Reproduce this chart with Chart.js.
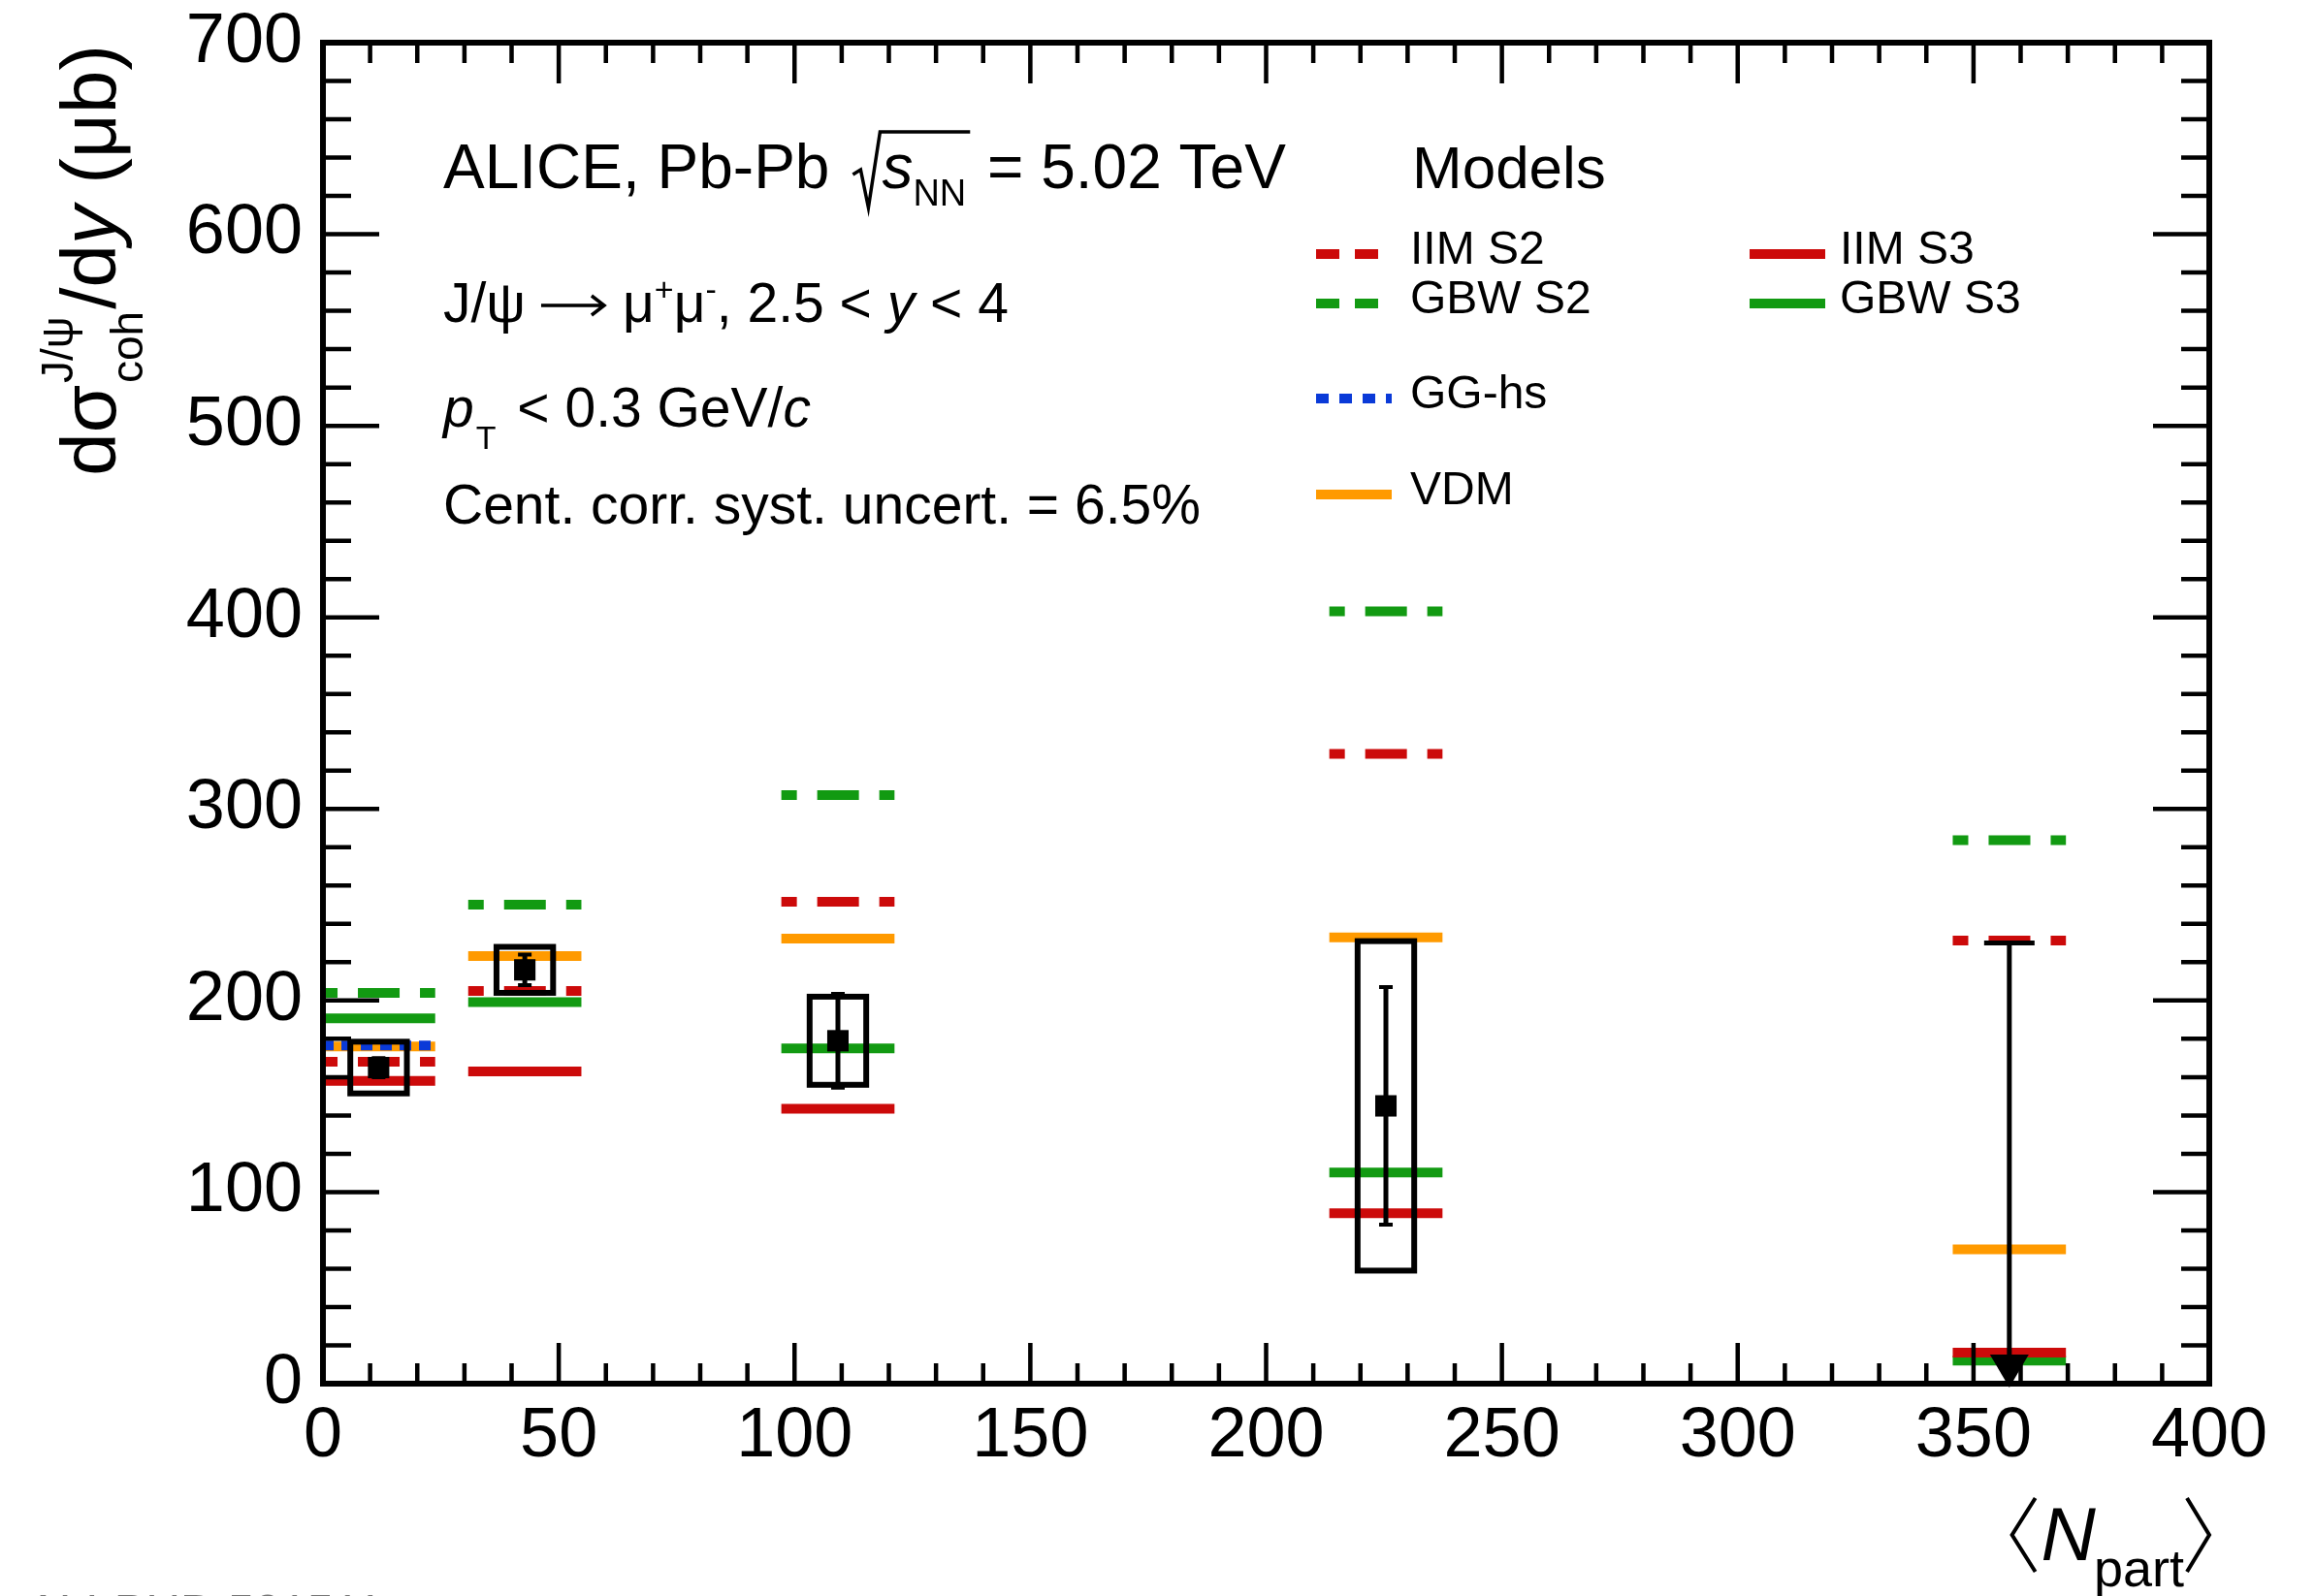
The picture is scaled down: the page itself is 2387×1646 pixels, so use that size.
<!DOCTYPE html>
<html>
<head>
<meta charset="utf-8">
<title>Coherent J/psi cross section vs Npart</title>
<script src="https://cdn.jsdelivr.net/npm/chart.js@4.4.1/dist/chart.umd.min.js"></script>
<style>
  html, body { margin: 0; padding: 0; background: #fff; }
  #wrap { width: 2387px; height: 1646px; }
</style>
</head>
<body>
<div id="wrap"><canvas id="xsecChart" width="2387" height="1646"></canvas></div>
<script>
// mean number of participants per centrality class
const npart = [11.8, 42.8, 109.2, 225.4, 357.6];

// measured dsigma/dy (mub), stat. and syst. uncertainties
const xsec = [165, 216, 179, 145, null];
const statErr = [5, 8, 24.5, 62, null];
const systErr = [13.5, 12, 23, 86, null];
const upperLimit = [null, null, null, null, 230];

// model predictions
const iimS2 = [168, 205, 251.6, 328.8, 231.3];
const gbwS2 = [204, 250, 307.2, 403.2, 283.7];
const iimS3 = [158, 163, 143.5, 89, 16.2];
const gbwS3 = [190.7, 199.2, 175, 110.2, 12];
const ggHs = [176.5, null, null, null, null];
const vdm = [176, 223.2, 232.3, 233, 70.1];

// axis ticks
const xTickValues = [0, 50, 100, 150, 200, 250, 300, 350, 400];
const yTickValues = [0, 100, 200, 300, 400, 500, 600, 700];
const xMinorStep = 10;
const yMinorStep = 20;

const FONT = '"Liberation Sans", Arial, Helvetica, sans-serif';
const RED = '#cc0a0a';
const GREEN = '#129a12';
const BLUE = '#0a3ad8';
const ORANGE = '#ff9a00';

const HALF_W = 12;  // half width of model bands (Npart units)
const BOX_W = 6;    // half width of syst. boxes (Npart units)

function segments(vals) {
  const pts = [];
  vals.forEach((v, i) => {
    if (v == null) return;
    pts.push({x: npart[i] - HALF_W, y: v}, {x: npart[i] + HALF_W, y: v}, {x: npart[i] + HALF_W, y: null});
  });
  return pts;
}

function modelSet(label, vals, color, dash, offset, order) {
  return {
    label: label,
    data: segments(vals),
    showLine: true,
    borderColor: color,
    backgroundColor: color,
    borderWidth: 10,
    borderDash: dash,
    borderDashOffset: offset,
    borderCapStyle: 'butt',
    pointRadius: 0,
    spanGaps: false,
    order: order
  };
}

const points = [];
xsec.forEach((v, i) => { if (v != null) points.push({x: npart[i], y: v}); });

function run(ctx, x, y, parts) {
  for (const p of parts) {
    ctx.font = (p.i ? 'italic ' : '') + p.s + 'px ' + FONT;
    ctx.fillText(p.t, x + (p.dx || 0), y + (p.dy || 0));
    x += ctx.measureText(p.t).width + (p.dx || 0);
  }
  return x;
}

function drawData(chart) {
  const {ctx, scales: {x, y}} = chart;
  ctx.save();
  ctx.strokeStyle = '#000';
  ctx.fillStyle = '#000';
  xsec.forEach((v, i) => {
    if (v == null) return;
    const x0 = x.getPixelForValue(npart[i] - BOX_W), x1 = x.getPixelForValue(npart[i] + BOX_W);
    const yt = y.getPixelForValue(v + systErr[i]), yb = y.getPixelForValue(v - systErr[i]);
    ctx.lineWidth = 6;
    ctx.strokeRect(x0, yt, x1 - x0, yb - yt);
    const px = x.getPixelForValue(npart[i]);
    const st = y.getPixelForValue(v + statErr[i]), sb = y.getPixelForValue(v - statErr[i]);
    ctx.lineWidth = 5;
    ctx.beginPath();
    ctx.moveTo(px, st); ctx.lineTo(px, sb);
    ctx.stroke();
    ctx.lineWidth = 4;
    ctx.beginPath();
    ctx.moveTo(px - 7, st); ctx.lineTo(px + 7, st);
    ctx.moveTo(px - 7, sb); ctx.lineTo(px + 7, sb);
    ctx.stroke();
  });
  upperLimit.forEach((v, i) => {
    if (v == null) return;
    const px = x.getPixelForValue(npart[i]);
    const top = y.getPixelForValue(v), zero = y.getPixelForValue(0);
    ctx.lineWidth = 5;
    ctx.beginPath();
    ctx.moveTo(px - 26, top); ctx.lineTo(px + 26, top);
    ctx.moveTo(px, top); ctx.lineTo(px, zero - 20);
    ctx.stroke();
    ctx.beginPath();
    ctx.moveTo(px - 20, zero - 30); ctx.lineTo(px + 20, zero - 30); ctx.lineTo(px, zero + 4);
    ctx.closePath();
    ctx.fill();
  });
  ctx.restore();
}

function drawFrame(chart) {
  const {ctx, chartArea: a, scales: {x, y}} = chart;
  ctx.save();
  ctx.strokeStyle = '#000';
  ctx.lineWidth = 4.5;
  ctx.beginPath();
  for (let v = x.min; v <= x.max; v += xMinorStep) {
    const px = x.getPixelForValue(v);
    const len = xTickValues.includes(v) ? 42 : 21;
    ctx.moveTo(px, a.bottom); ctx.lineTo(px, a.bottom - len);
    ctx.moveTo(px, a.top); ctx.lineTo(px, a.top + len);
  }
  for (let v = y.min; v <= y.max; v += yMinorStep) {
    const py = y.getPixelForValue(v);
    const len = yTickValues.includes(v) ? 58 : 29;
    ctx.moveTo(a.left, py); ctx.lineTo(a.left + len, py);
    ctx.moveTo(a.right, py); ctx.lineTo(a.right - len, py);
  }
  ctx.stroke();
  ctx.lineWidth = 6;
  ctx.strokeRect(a.left, a.top, a.right - a.left, a.bottom - a.top);
  ctx.restore();
}

function drawTexts(chart) {
  const {ctx, chartArea: a} = chart;
  ctx.save();
  ctx.fillStyle = '#000';
  ctx.strokeStyle = '#000';
  ctx.textBaseline = 'alphabetic';
  ctx.textAlign = 'left';

  // line 1 with sqrt(s_NN)
  let cx = run(ctx, 457, 194, [{t: 'ALICE, Pb-Pb', s: 64}]);
  const sx = cx + 24;
  let ex = run(ctx, sx + 30, 194, [{t: 's', s: 64, i: true}, {t: 'NN', s: 38, dy: 18}]);
  ctx.lineWidth = 3.5;
  ctx.beginPath();
  ctx.moveTo(sx, 180); ctx.lineTo(sx + 8, 175); ctx.lineTo(sx + 16, 214);
  ctx.lineTo(sx + 28, 136); ctx.lineTo(ex + 4, 136);
  ctx.stroke();
  run(ctx, ex + 4, 194, [{t: ' = 5.02 TeV', s: 64}]);

  // line 2 with a drawn arrow
  let ax = run(ctx, 457, 332, [{t: 'J/\u03C8', s: 57}]);
  const ay = 315;
  ctx.lineWidth = 3.5;
  ctx.beginPath();
  ctx.moveTo(ax + 16, ay); ctx.lineTo(ax + 80, ay);
  ctx.moveTo(ax + 68, ay - 10); ctx.lineTo(ax + 81, ay); ctx.lineTo(ax + 68, ay + 10);
  ctx.stroke();
  run(ctx, ax + 100, 332, [
    {t: '\u03BC', s: 57}, {t: '+', s: 34, dy: -22}, {t: '\u03BC', s: 57},
    {t: '-', s: 34, dy: -22}, {t: ', 2.5 < ', s: 57}, {t: 'y', s: 57, i: true}, {t: ' < 4', s: 57}
  ]);
  run(ctx, 457, 440, [
    {t: 'p', s: 57, i: true}, {t: 'T', s: 34, dy: 23, dx: 2}, {t: ' < 0.3 GeV/', s: 57, dx: 6}, {t: 'c', s: 57, i: true}
  ]);
  run(ctx, 457, 540, [{t: 'Cent. corr. syst. uncert. = 6.5%', s: 57}]);

  // legend
  run(ctx, 1456, 194, [{t: 'Models', s: 62}]);
  const legend = [
    ['IIM S2', RED, [24, 16], 1357, 262, 1454],
    ['GBW S2', GREEN, [24, 16], 1357, 313, 1454],
    ['GG-hs', BLUE, [13, 11], 1357, 411, 1454],
    ['VDM', ORANGE, [], 1357, 510, 1454],
    ['IIM S3', RED, [], 1804, 262, 1897],
    ['GBW S3', GREEN, [], 1804, 313, 1897]
  ];
  legend.forEach(([name, color, dash, lx, ly, tx]) => {
    ctx.strokeStyle = color;
    ctx.lineWidth = 10;
    ctx.setLineDash(dash);
    ctx.beginPath();
    ctx.moveTo(lx, ly); ctx.lineTo(lx + 78, ly);
    ctx.stroke();
    ctx.setLineDash([]);
    ctx.fillStyle = '#000';
    run(ctx, tx, ly + 10, [{t: name, s: 48}]);
  });

  // y-axis title (rotated, aligned to the top of the axis)
  ctx.save();
  const yParts = [
    {t: 'd\u03C3', s: 80}, {t: 'J/\u03C8', s: 46, dy: -44, sup: true}, {t: 'coh', s: 46, dy: 28, sub: true},
    {t: '/d', s: 80}, {t: 'y', s: 80, i: true}, {t: ' (\u03BCb)', s: 80}
  ];
  let total = 0, supW = 0;
  yParts.forEach(p => {
    ctx.font = (p.i ? 'italic ' : '') + p.s + 'px ' + FONT;
    const w = ctx.measureText(p.t).width;
    if (p.sup) { supW = w; return; }
    if (p.sub) { total += Math.max(supW, w) + 4; return; }
    total += w;
  });
  ctx.translate(119, a.top + 2 + total);
  ctx.rotate(-Math.PI / 2);
  let px = 0, stack = 0;
  yParts.forEach(p => {
    ctx.font = (p.i ? 'italic ' : '') + p.s + 'px ' + FONT;
    const w = ctx.measureText(p.t).width;
    ctx.fillStyle = '#000';
    ctx.fillText(p.t, px + (p.sup || p.sub ? 2 : 0), p.dy || 0);
    if (p.sup) { stack = w; return; }
    if (p.sub) { px += Math.max(stack, w) + 4; return; }
    px += w;
  });
  ctx.restore();

  // x-axis title <N_part>
  const R = a.right;
  ctx.font = '54px ' + FONT;
  const partW = ctx.measureText('part').width;
  ctx.font = 'italic 78px ' + FONT;
  const nW = ctx.measureText('N').width;
  const partX = R - 26 - partW;
  const nX = partX - nW + 2;
  ctx.fillText('N', nX, 1609);
  ctx.font = '54px ' + FONT;
  ctx.fillText('part', partX, 1636);
  ctx.lineWidth = 4;
  ctx.strokeStyle = '#000';
  ctx.beginPath();
  const lb = nX - 6;
  ctx.moveTo(lb, 1545); ctx.lineTo(lb - 24, 1583); ctx.lineTo(lb, 1621);
  ctx.moveTo(R - 23, 1545); ctx.lineTo(R, 1583); ctx.lineTo(R - 23, 1621);
  ctx.stroke();

  // figure id, cut by the bottom edge
  ctx.fillStyle = '#777';
  ctx.font = '49px ' + FONT;
  ctx.fillText('ALI-PUB-501511', 28, 1678);
  ctx.restore();
}

const decorations = {
  id: 'decorations',
  beforeDatasetDraw(chart, args) {
    if (chart.data.datasets[args.index].label === 'data') drawData(chart);
  },
  afterDatasetsDraw(chart) { drawFrame(chart); },
  afterDraw(chart) { drawTexts(chart); }
};

const ctx = document.getElementById('xsecChart').getContext('2d');
new Chart(ctx, {
  type: 'scatter',
  data: {
    datasets: [
      {
        label: 'data',
        data: points,
        pointStyle: 'rect',
        pointRadius: 15.6,
        pointBorderWidth: 0,
        backgroundColor: '#000',
        borderColor: '#000',
        showLine: false,
        order: 0
      },
      modelSet('GG-hs', ggHs, BLUE, [12, 8], 0, 1),
      modelSet('VDM', vdm, ORANGE, [], 0, 2),
      modelSet('IIM S3', iimS3, RED, [], 0, 3),
      modelSet('GBW S3', gbwS3, GREEN, [], 0, 4),
      modelSet('IIM S2', iimS2, RED, [43, 21], 27, 5),
      modelSet('GBW S2', gbwS2, GREEN, [43, 21], 27, 6)
    ]
  },
  options: {
    responsive: false,
    animation: false,
    events: [],
    devicePixelRatio: 1,
    layout: { padding: { top: 44, right: 109, left: 0, bottom: 0 } },
    plugins: {
      legend: { display: false },
      tooltip: { enabled: false },
      title: { display: false }
    },
    scales: {
      x: {
        type: 'linear',
        min: 0,
        max: 400,
        grid: { display: false, drawTicks: false },
        border: { display: false },
        afterBuildTicks: s => { s.ticks = xTickValues.map(v => ({value: v})); },
        afterFit: s => { s.height = 219; s.paddingLeft = 0; s.paddingRight = 0; },
        ticks: {
          color: '#000',
          padding: 12,
          maxRotation: 0,
          font: { family: FONT, size: 72 }
        }
      },
      y: {
        type: 'linear',
        min: 0,
        max: 700,
        grid: { display: false, drawTicks: false },
        border: { display: false },
        afterBuildTicks: s => { s.ticks = yTickValues.map(v => ({value: v})); },
        afterFit: s => { s.width = 333; s.paddingTop = 0; s.paddingBottom = 0; },
        ticks: {
          color: '#000',
          padding: 21,
          font: { family: FONT, size: 72, lineHeight: 1 }
        }
      }
    }
  },
  plugins: [decorations]
});
</script>
</body>
</html>
